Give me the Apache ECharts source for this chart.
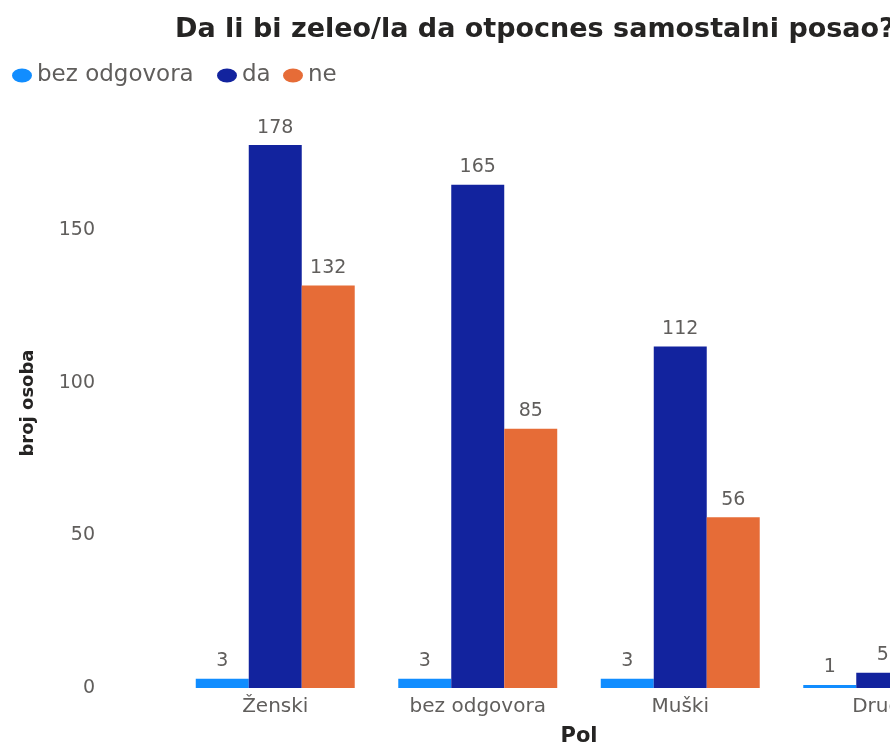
<!DOCTYPE html>
<html>
<head>
<meta charset="utf-8">
<script src="https://cdn.jsdelivr.net/npm/echarts@6/dist/echarts.min.js"></script>
<style>
  html, body { margin: 0; padding: 0; background: #fff; overflow: hidden; }
  #chart { width: 1000px; height: 744px; }
</style>
</head>
<body>
<div id="chart"></div>
<script>
// kategorije (Pol)
const categories = ['Ženski', 'bez odgovora', 'Muški', 'Drugo'];
// serije
const bezOdgovora = [3, 3, 3, 1];
const da = [178, 165, 112, 5];
const ne = [132, 85, 56, 2];
const yTicks = [0, 50, 100, 150];

const colors = ['#118DFF', '#12239E', '#E66C37'];
const myChart = echarts.init(document.getElementById('chart'));

// malo razvucen krug kao na slici
const ellipse = 'path://M0,50 A50,50 0 1,1 100,50 A50,50 0 1,1 0,50 Z';

const labelStyle = {
  show: true,
  position: 'top',
  distance: 8,
  color: '#605E5C',
  fontSize: 19,
  fontFamily: 'DejaVu Sans'
};

function legendItem(name, left) {
  return {
    left: left,
    top: 64,
    icon: ellipse,
    symbolKeepAspect: false,
    itemWidth: 20,
    itemHeight: 14,
    itemGap: 0,
    padding: 0,
    textStyle: { fontSize: 23, color: '#605E5C', fontFamily: 'DejaVu Sans' },
    data: [name]
  };
}

const option = {
  color: colors,
  animation: false,
  title: {
    text: 'Da li bi zeleo/la da otpocnes samostalni posao?',
    left: 170,
    top: 11,
    textStyle: {
      fontFamily: 'DejaVu Sans',
      fontWeight: 'bold',
      fontSize: 27,
      color: '#252423'
    }
  },
  legend: [
    legendItem('bez odgovora', 12),
    legendItem('da', 217),
    legendItem('ne', 283)
  ],
  grid: {
    left: 174,
    top: 78,
    width: 810,
    height: 610,
    containLabel: false,
    outerBoundsMode: 'none'
  },
  xAxis: {
    type: 'category',
    data: categories,
    name: 'Pol',
    nameLocation: 'middle',
    nameGap: 38,
    nameTextStyle: { fontSize: 21, fontWeight: 'bold', color: '#252423', fontFamily: 'DejaVu Sans' },
    axisLine: { show: false },
    axisTick: { show: false },
    axisLabel: { fontSize: 20, color: '#605E5C', margin: 9, fontFamily: 'DejaVu Sans' }
  },
  yAxis: {
    type: 'value',
    min: 0,
    max: 200,
    interval: 50,
    name: 'broj osoba',
    nameLocation: 'middle',
    nameGap: 137,
    nameTextStyle: { fontSize: 18, fontWeight: 'bold', color: '#252423', fontFamily: 'DejaVu Sans', padding: [0, 40, 0, 0] },
    axisLabel: {
      showMaxLabel: false,
      margin: 79,
      fontSize: 19,
      color: '#605E5C',
      fontFamily: 'DejaVu Sans',
      formatter: function (v) { return yTicks.indexOf(v) >= 0 ? String(v) : ''; }
    },
    splitLine: { show: false }
  },
  series: [
    { name: 'bez odgovora', type: 'bar', barGap: '0%', barCategoryGap: '21.5%', data: bezOdgovora, label: labelStyle },
    { name: 'da', type: 'bar', barGap: '0%', barCategoryGap: '21.5%', data: da, label: labelStyle },
    { name: 'ne', type: 'bar', barGap: '0%', barCategoryGap: '21.5%', data: ne, label: labelStyle }
  ]
};

myChart.setOption(option);
</script>
</body>
</html>
